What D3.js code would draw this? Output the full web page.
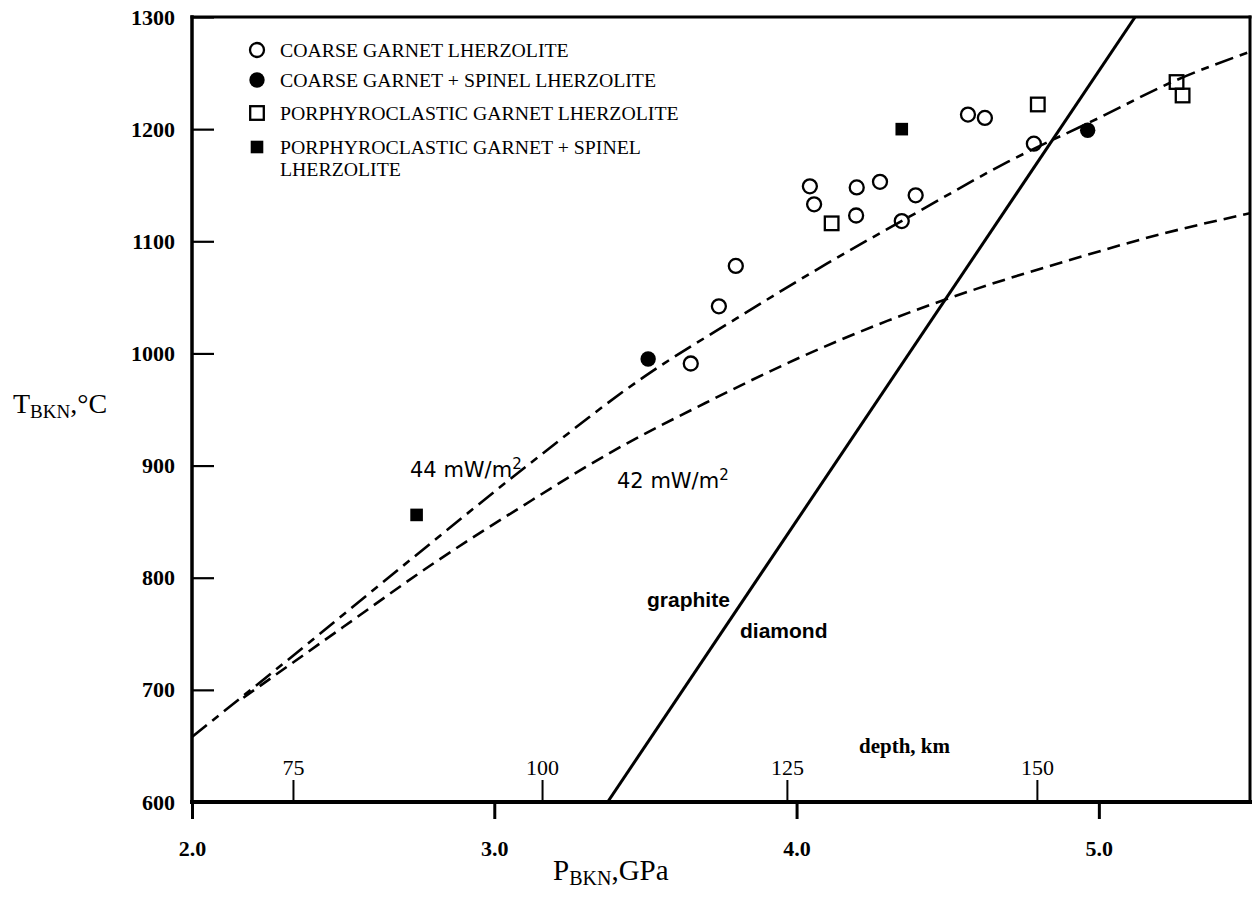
<!DOCTYPE html>
<html lang="en">
<head>
  <meta charset="UTF-8">
  <title>Geotherms and garnet lherzolites</title>
  <script src="https://d3js.org/d3.v7.min.js"></script>
  <style>
    body { margin: 0; background: #fff; }
    svg { display: block; }
    .serif { font-family: "Liberation Serif", "Times New Roman", serif; }
    .sans { font-family: "DejaVu Sans", sans-serif; }
    .hel { font-family: "Liberation Sans", Arial, sans-serif; }
  </style>
</head>
<body>
<script>
  // ---- data ----
  const pTicks = [2.0, 3.0, 4.0, 5.0];
  const tTicks = [600, 700, 800, 900, 1000, 1100, 1200, 1300];
  const depthTicks = [75, 100, 125, 150];
  const depthPressure = [2.334, 3.158, 3.968, 4.795];

  const legendLabels = [
    ["COARSE GARNET LHERZOLITE"],
    ["COARSE GARNET + SPINEL LHERZOLITE"],
    ["PORPHYROCLASTIC GARNET LHERZOLITE"],
    ["PORPHYROCLASTIC GARNET + SPINEL", "LHERZOLITE"]
  ];

  const coarseGtP = [3.650, 3.743, 3.799, 4.044, 4.058, 4.199, 4.197, 4.276, 4.394, 4.348, 4.567, 4.623, 4.785];
  const coarseGtT = [991, 1042, 1078, 1149, 1133, 1148, 1123, 1153, 1141, 1118, 1213, 1210, 1187];

  const coarseSpP = [3.509, 4.963];
  const coarseSpT = [995, 1199];

  const porphGtP = [4.116, 4.798, 5.257, 5.277];
  const porphGtT = [1116, 1222, 1242, 1230];

  const porphSpP = [2.743, 4.348];
  const porphSpT = [856, 1200];

  const geo44P = [2.0, 2.3, 2.7, 3.1, 3.5, 3.8, 4.1, 4.4, 4.7, 5.0, 5.25, 5.5];
  const geo44T = [658, 723, 811, 898, 980, 1031, 1080, 1126, 1171, 1210, 1243, 1269];

  const geo42P = [2.17, 2.5, 2.8, 3.1, 3.4, 3.7, 4.0, 4.3, 4.6, 4.9, 5.2, 5.5];
  const geo42T = [693, 756, 813, 865, 914, 956, 995, 1029, 1058, 1083, 1106, 1125];

  const gdP = [3.375, 5.12];
  const gdT = [600, 1300];

  // ---- layout ----
  const width = 1253, height = 897;
  const plotL = 192, plotR = 1250, plotT = 17, plotB = 802;

  const svg = d3.select("body").append("svg")
    .attr("width", width)
    .attr("height", height);

  const x = d3.scaleLinear().domain([2.0, 5.5]).range([plotL, plotR]);
  const y = d3.scaleLinear().domain([600, 1300]).range([plotB, plotT]);
  const depth = d3.scaleLinear().domain(depthTicks).range(depthPressure.map(p => x(p)));

  svg.append("clipPath").attr("id", "plot")
    .append("rect")
    .attr("x", plotL).attr("y", plotT)
    .attr("width", plotR - plotL).attr("height", plotB - plotT);

  const zip = (ps, ts) => ps.map((p, i) => [p, ts[i]]);
  const line = d3.line().x(d => x(d[0])).y(d => y(d[1])).curve(d3.curveMonotoneX);

  const curves = svg.append("g").attr("clip-path", "url(#plot)");

  curves.append("path")
    .attr("d", line(zip(geo44P, geo44T)))
    .attr("fill", "none").attr("stroke", "#000")
    .attr("stroke-width", 2.6)
    .attr("stroke-dasharray", "19,7,8,7");

  curves.append("path")
    .attr("d", line(zip(geo42P, geo42T)))
    .attr("fill", "none").attr("stroke", "#000")
    .attr("stroke-width", 2.6)
    .attr("stroke-dasharray", "13,7");

  curves.append("path")
    .attr("d", d3.line().x(d => x(d[0])).y(d => y(d[1]))(zip(gdP, gdT)))
    .attr("fill", "none").attr("stroke", "#000")
    .attr("stroke-width", 3);

  // ---- axes ----
  const yAxis = svg.append("g")
    .attr("transform", `translate(${plotL},0)`)
    .call(d3.axisLeft(y).tickValues(tTicks).tickSizeInner(-22).tickSizeOuter(0)
      .tickPadding(17).tickFormat(d3.format("d")));
  yAxis.select(".domain").remove();
  yAxis.selectAll("line").attr("stroke-width", 2.2);
  yAxis.selectAll("text")
    .attr("class", "serif")
    .attr("font-size", 22).attr("font-weight", "bold").attr("fill", "#000");

  const xAxis = svg.append("g")
    .attr("transform", `translate(0,${plotB})`)
    .call(d3.axisBottom(x).tickValues(pTicks).tickSize(17).tickPadding(21).tickFormat(d3.format(".1f")));
  xAxis.select(".domain").remove();
  xAxis.selectAll("line").attr("stroke-width", 3);
  xAxis.selectAll("text")
    .attr("class", "serif")
    .attr("font-size", 22).attr("font-weight", "bold").attr("fill", "#000");

  const dAxis = svg.append("g")
    .attr("transform", `translate(0,${plotB})`)
    .call(d3.axisTop(depth).tickValues(depthTicks).tickSize(22).tickPadding(5).tickFormat(d3.format("d")));
  dAxis.select(".domain").remove();
  dAxis.selectAll("line").attr("stroke-width", 2);
  dAxis.selectAll("text")
    .attr("class", "serif")
    .attr("font-size", 22).attr("fill", "#000");

  // frame
  const frame = svg.append("g").attr("stroke", "#000").attr("stroke-linecap", "square");
  frame.append("line").attr("x1", plotL).attr("x2", plotR).attr("y1", plotT).attr("y2", plotT).attr("stroke-width", 3);
  frame.append("line").attr("x1", plotR).attr("x2", plotR).attr("y1", plotT).attr("y2", plotB).attr("stroke-width", 3);
  frame.append("line").attr("x1", plotL).attr("x2", plotR).attr("y1", plotB).attr("y2", plotB).attr("stroke-width", 4);
  frame.append("line").attr("x1", plotL).attr("x2", plotL).attr("y1", plotT).attr("y2", plotB).attr("stroke-width", 3.5);

  // ---- markers ----
  function drawMarker(g, type, cx, cy) {
    if (type === 0) {
      g.append("circle").attr("cx", cx).attr("cy", cy).attr("r", 7)
        .attr("fill", "none").attr("stroke", "#000").attr("stroke-width", 2.3);
    } else if (type === 1) {
      g.append("circle").attr("cx", cx).attr("cy", cy).attr("r", 7.7).attr("fill", "#000");
    } else if (type === 2) {
      g.append("rect").attr("x", cx - 6.8).attr("y", cy - 6.8).attr("width", 13.6).attr("height", 13.6)
        .attr("fill", "none").attr("stroke", "#000").attr("stroke-width", 2.3);
    } else {
      g.append("rect").attr("x", cx - 6.3).attr("y", cy - 6.3).attr("width", 12.6).attr("height", 12.6)
        .attr("fill", "#000");
    }
  }

  const series = [
    zip(coarseGtP, coarseGtT),
    zip(coarseSpP, coarseSpT),
    zip(porphGtP, porphGtT),
    zip(porphSpP, porphSpT)
  ];
  const marks = svg.append("g");
  series.forEach((pts, k) => {
    pts.forEach(d => drawMarker(marks, k, x(d[0]), y(d[1])));
  });

  // ---- legend ----
  const legendY = [50, 80, 113, 147];
  const legend = svg.append("g");
  legendLabels.forEach((lines, k) => {
    drawMarker(legend, k, 257, legendY[k]);
    const t = legend.append("text")
      .attr("class", "serif")
      .attr("x", 280).attr("y", legendY[k] + 7)
      .attr("font-size", 19.8);
    lines.forEach((s, i) => {
      t.append("tspan").attr("x", 280).attr("dy", i === 0 ? 0 : 22).text(s);
    });
  });

  // ---- curve and field labels ----
  function fluxLabel(txt, px, py) {
    const t = svg.append("text").attr("class", "sans")
      .attr("x", px).attr("y", py).attr("font-size", 21);
    t.append("tspan").text(txt);
    t.append("tspan").attr("font-size", 15).attr("dy", -8).text("2");
  }
  fluxLabel("44 mW/m", 410, 477);
  fluxLabel("42 mW/m", 617, 488);

  svg.append("text").attr("class", "hel")
    .attr("x", 647).attr("y", 607)
    .attr("font-size", 21).attr("font-weight", "bold")
    .text("graphite");
  svg.append("text").attr("class", "hel")
    .attr("x", 740).attr("y", 638)
    .attr("font-size", 21).attr("font-weight", "bold")
    .text("diamond");

  svg.append("text").attr("class", "serif")
    .attr("x", 859).attr("y", 753)
    .attr("font-size", 21).attr("font-weight", "bold")
    .text("depth, km");

  // ---- axis titles ----
  const yt = svg.append("text").attr("class", "serif")
    .attr("x", 13).attr("y", 413).attr("font-size", 28);
  yt.append("tspan").text("T");
  yt.append("tspan").attr("font-size", 19).attr("dy", 5).text("BKN");
  yt.append("tspan").attr("dy", -5).text(",°C");

  const xt = svg.append("text").attr("class", "serif")
    .attr("x", 553).attr("y", 880).attr("font-size", 29);
  xt.append("tspan").text("P");
  xt.append("tspan").attr("font-size", 20).attr("dy", 5).text("BKN");
  xt.append("tspan").attr("dy", -5).text(",GPa");
</script>
</body>
</html>
